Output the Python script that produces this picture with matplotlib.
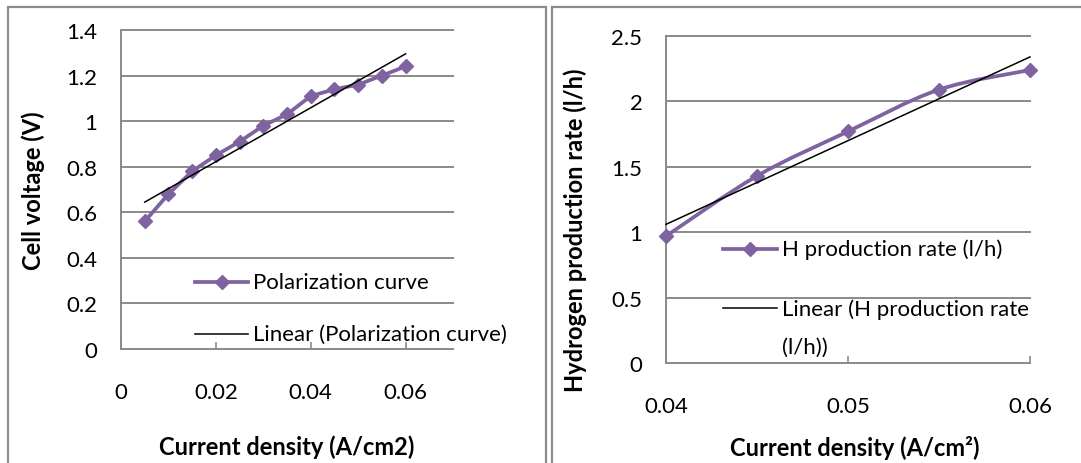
import numpy as np
import matplotlib
matplotlib.use("Agg")
import matplotlib.pyplot as plt
from matplotlib.patches import Rectangle, PathPatch
from matplotlib.path import Path
from matplotlib.lines import Line2D

plt.rcParams['font.family'] = ['Lato', 'DejaVu Sans']

# Polarization data
cd_pol = [0.005, 0.010, 0.015, 0.020, 0.025, 0.030, 0.035, 0.040, 0.045, 0.050, 0.055, 0.060]
voltage = [0.56, 0.68, 0.78, 0.85, 0.91, 0.98, 1.03, 1.11, 1.14, 1.16, 1.20, 1.24]
pol_xticks = [0, 0.02, 0.04, 0.06]
pol_xticklabels = ["0", "0.02", "0.04", "0.06"]
pol_yticks = [0, 0.2, 0.4, 0.6, 0.8, 1, 1.2, 1.4]
pol_yticklabels = ["0", "0.2", "0.4", "0.6", "0.8", "1", "1.2", "1.4"]

# Hydrogen production data
cd_h2 = [0.040, 0.045, 0.050, 0.055, 0.060]
h2_rate = [0.97, 1.43, 1.77, 2.09, 2.24]
h2_xticks = [0.04, 0.05, 0.06]
h2_xticklabels = ["0.04", "0.05", "0.06"]
h2_yticks = [0, 0.5, 1, 1.5, 2, 2.5]
h2_yticklabels = ["0", "0.5", "1", "1.5", "2", "2.5"]

W, H = 1081, 464
PURPLE = "#7f63a1"
GRID = "#8a8a8a"
FS_TICK = 16
FS_LEG = 16
FS_LAB = 17
LW = 2.7
MS = 7

fig = plt.figure(figsize=(W / 100, H / 100), dpi=100)


def fx(x):
    return x / W


def fy(y):
    return 1 - y / H


def add_axes_px(left, top, right, bottom):
    return fig.add_axes([fx(left), fy(bottom), fx(right - left), (bottom - top) / H])


def smooth_path(xs, ys):
    # Catmull-Rom spline converted to cubic Bezier segments
    pts = np.column_stack([xs, ys]).astype(float)
    ext = np.vstack([pts[0], pts, pts[-1]])
    verts = [tuple(pts[0])]
    codes = [Path.MOVETO]
    for i in range(1, len(ext) - 2):
        p0, p1, p2, p3 = ext[i - 1], ext[i], ext[i + 1], ext[i + 2]
        c1 = p1 + (p2 - p0) / 6
        c2 = p2 - (p3 - p1) / 6
        verts += [tuple(c1), tuple(c2), tuple(p2)]
        codes += [Path.CURVE4] * 3
    return Path(verts, codes)


def style_axes(ax, xlim, ylim, xticks, xlabels, yticks, ylabels):
    ax.set_xlim(*xlim)
    ax.set_ylim(*ylim)
    for s in ("top", "right", "bottom"):
        ax.spines[s].set_visible(False)
    ax.spines["left"].set_color(GRID)
    ax.spines["left"].set_linewidth(1.4)
    ax.set_yticks(yticks)
    ax.set_yticklabels(ylabels)
    ax.set_xticks(xticks)
    ax.set_xticklabels(xlabels)
    for y in yticks:
        ax.axhline(y, color=GRID, lw=1.4, zorder=1, clip_on=False)
    ax.tick_params(axis="y", length=0, pad=17, labelsize=FS_TICK)
    ax.tick_params(axis="x", direction="in", length=5, width=1.2, color=GRID,
                   pad=24, labelsize=FS_TICK)


# Panel frames
fig.add_artist(Rectangle((fx(8), fy(470)), fx(546 - 8), (470 - 8) / H,
                         transform=fig.transFigure, fill=False, ec="#8c8c8c", lw=1.6))
fig.add_artist(Rectangle((fx(552), fy(470)), fx(1100 - 552), (470 - 8) / H,
                         transform=fig.transFigure, fill=False, ec="#8c8c8c", lw=1.6))

# Left: polarization curve
ax1 = add_axes_px(121, 31, 453, 350)
style_axes(ax1, (0, 0.07), (0, 1.4), pol_xticks, pol_xticklabels, pol_yticks, pol_yticklabels)
ax1.plot(cd_pol, voltage, color=PURPLE, lw=LW, marker="D", ms=MS, zorder=3)
k1 = np.polyfit(cd_pol, voltage, 1)
xx1 = np.array([cd_pol[0], cd_pol[-1]])
ax1.plot(xx1, np.polyval(k1, xx1), color="black", lw=1.1, zorder=4)

fig.text(fx(33), fy(191), "Cell voltage (V)", rotation=90, ha="center", va="center",
         fontsize=FS_LAB, fontweight="bold")
fig.text(fx(287), fy(447), "Current density (A/cm2)", ha="center", va="center",
         fontsize=FS_LAB, fontweight="bold")

# Left legend
fig.add_artist(Line2D([fx(195), fx(248)], [fy(283), fy(283)], color=PURPLE, lw=LW))
fig.add_artist(Line2D([fx(221.5)], [fy(283)], color=PURPLE, marker="D", ms=MS))
fig.text(fx(253), fy(283), "Polarization curve", va="center", fontsize=FS_LEG)
fig.add_artist(Line2D([fx(195), fx(248)], [fy(335), fy(335)], color="black", lw=1.1))
fig.text(fx(253), fy(335), "Linear (Polarization curve)", va="center", fontsize=FS_LEG)

# Right: hydrogen production
ax2 = add_axes_px(666, 37, 1030, 364)
style_axes(ax2, (0.04, 0.06), (0, 2.5), h2_xticks, h2_xticklabels, h2_yticks, h2_yticklabels)
ax2.add_patch(PathPatch(smooth_path(cd_h2, h2_rate), fill=False, ec=PURPLE, lw=LW,
                        zorder=3, clip_on=False))
ax2.plot(cd_h2, h2_rate, ls="none", color=PURPLE, marker="D", ms=MS, zorder=3,
         clip_on=False)
k2 = np.polyfit(cd_h2, h2_rate, 1)
xx2 = np.array([cd_h2[0], cd_h2[-1]])
ax2.plot(xx2, np.polyval(k2, xx2), color="black", lw=1.1, zorder=4, clip_on=False)

fig.text(fx(575), fy(230), "Hydrogen production rate (l/h)", rotation=90, ha="center",
         va="center", fontsize=FS_LAB, fontweight="bold")
fig.text(fx(855), fy(448), "Current density (A/cm\u00b2)", ha="center", va="center",
         fontsize=FS_LAB, fontweight="bold")

# Right legend
fig.add_artist(Line2D([fx(723), fx(777)], [fy(250), fy(250)], color=PURPLE, lw=LW))
fig.add_artist(Line2D([fx(750)], [fy(250)], color=PURPLE, marker="D", ms=MS))
fig.text(fx(782), fy(250), "H production rate (l/h)", va="center", fontsize=FS_LEG)
fig.add_artist(Line2D([fx(723), fx(777)], [fy(309), fy(309)], color="black", lw=1.1))
fig.text(fx(782), fy(310), "Linear (H production rate", va="center", fontsize=FS_LEG)
fig.text(fx(782), fy(348), "(l/h))", va="center", fontsize=FS_LEG)

fig.savefig("out.png", dpi=100)
